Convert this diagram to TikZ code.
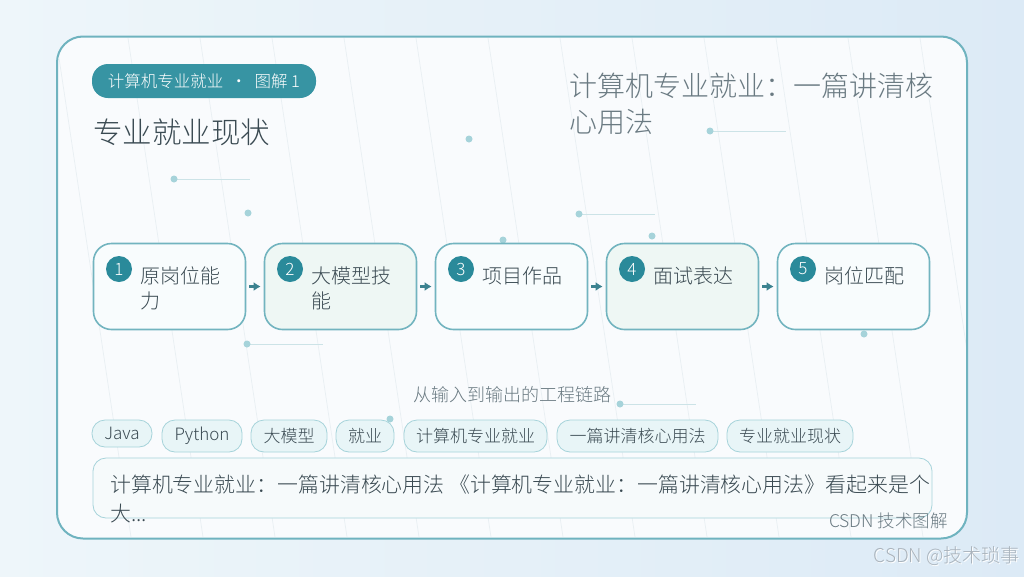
\documentclass[tikz,border=0pt]{standalone}
\usepackage{fontspec}
\IfFontExistsTF{Noto Sans CJK SC Light}{\setmainfont{Noto Sans CJK SC Light}}{\setmainfont{Noto Sans CJK SC}}
\usetikzlibrary{arrows.meta}
\definecolor{bgA}{HTML}{EEF6FA}
\definecolor{bgB}{HTML}{DCEAF6}
\definecolor{cardfill}{HTML}{F9FBFD}
\definecolor{cardline}{HTML}{6FB3BF}
\definecolor{badge}{HTML}{3794A3}
\definecolor{numfill}{HTML}{2A8A9A}
\definecolor{boxline}{HTML}{72B4BF}
\definecolor{boxA}{HTML}{F8FCFD}
\definecolor{boxB}{HTML}{EEF7F4}
\definecolor{arrowc}{HTML}{3C8290}
\definecolor{dotc}{HTML}{A6D3DA}
\definecolor{dotline}{HTML}{CCE3E7}
\definecolor{tagfill}{HTML}{E8F5F7}
\definecolor{tagline}{HTML}{A6D3DA}
\definecolor{txtdark}{HTML}{3A4A52}
\definecolor{txtgray}{HTML}{6A7A82}
\definecolor{faint}{HTML}{E9EFF3}
\definecolor{sumfill}{HTML}{F6FAFB}
\definecolor{wm}{HTML}{A9B3BC}
\begin{document}
\begin{tikzpicture}[x=1pt,y=-1pt,
  stepbox/.style={draw=boxline,line width=1.6pt,rounded corners=18pt,minimum width=152pt,minimum height=86pt,inner sep=0pt},
  numc/.style={circle,fill=numfill,minimum size=26pt,inner sep=0pt,text=white,font=\fontsize{17}{17}\selectfont},
  steptext/.style={anchor=north west,align=left,inner sep=0pt,text=txtdark,font=\fontsize{20}{25}\selectfont},
  arr/.style={-{Latex[length=7pt,width=9pt]},draw=arrowc,line width=2.4pt,shorten <=3pt,shorten >=3pt},
  tag/.style={draw=tagline,fill=tagfill,line width=0.8pt,rounded corners=13pt,minimum height=32pt,inner sep=0pt,text=txtdark,font=\fontsize{17}{17}\selectfont},
  dot/.style={fill=dotc,draw=none},
  dline/.style={draw=dotline,line width=0.8pt}
]
\useasboundingbox (0,0) rectangle (1024,576);
% background
\shade[left color=bgA,right color=bgB] (0,0) rectangle (1024,576);
% card
\node[draw=cardline,line width=2pt,fill=cardfill,rounded corners=26pt,minimum width=910pt,minimum height=502pt,inner sep=0pt] (card) at (512,287.5) {};
% faint diagonal lines
\begin{scope}
\clip[rounded corners=26pt] (58,38) rectangle (966,537);
\foreach \k in {0,...,13}{
  \draw[faint,line width=0.7pt] (128+72*\k-72,38) -- (128+72*\k-72+75,537);
}
\end{scope}
% badge
\node[fill=badge,rounded corners=16pt,minimum width=224pt,minimum height=34pt,inner sep=0pt,text=white,font=\fontsize{16.5}{16.5}\selectfont] (badge) at (204,81) {计算机专业就业\ \ ·\ \ 图解 1};
% titles
\node[anchor=west,inner sep=0pt,text=txtdark,font=\fontsize{29.5}{29.5}\selectfont] (title) at (93,132) {专业就业现状};
\node[anchor=north west,align=left,inner sep=0pt,text=txtgray,font=\fontsize{28}{36}\selectfont] (rtitle) at (569,73) {计算机专业就业：一篇讲清核\\心用法};
% decorative dots
\foreach \x/\y/\l in {174/179/250,710/131/786,247/344/323,579/214/655,620/404/696}{
  \draw[dline] (\x,\y) -- (\l,\y);
  \fill[dot] (\x,\y) circle (3.5pt);
}
\foreach \x/\y in {248/213,469/139,503/240,652/236,864/334,390/419}{
  \fill[dot] (\x,\y) circle (3.5pt);
}
% steps
\node[stepbox,fill=boxA] (s1) at (169.5,286.5) {};
\node[stepbox,fill=boxB] (s2) at (340.5,286.5) {};
\node[stepbox,fill=boxA] (s3) at (511.5,286.5) {};
\node[stepbox,fill=boxB] (s4) at (682.5,286.5) {};
\node[stepbox,fill=boxA] (s5) at (853.5,286.5) {};
\node[numc] (n1) at (119,269) {1};
\node[numc] (n2) at (290,269) {2};
\node[numc] (n3) at (461,269) {3};
\node[numc] (n4) at (632,269) {4};
\node[numc] (n5) at (803,269) {5};
\node[steptext] (t1) at (140,267) {原岗位能\\力};
\node[steptext] (t2) at (311,267) {大模型技\\能};
\node[steptext] (t3) at (482,267) {项目作品};
\node[steptext] (t4) at (653,267) {面试表达};
\node[steptext] (t5) at (824,267) {岗位匹配};
\draw[arr] (s1.east) -- (s2.west);
\draw[arr] (s2.east) -- (s3.west);
\draw[arr] (s3.east) -- (s4.west);
\draw[arr] (s4.east) -- (s5.west);
% caption
\node[inner sep=0pt,text=txtgray,font=\fontsize{18}{18}\selectfont] (cap) at (512,395) {从输入到输出的工程链路};
% tags
\node[tag,minimum width=60pt,minimum height=27pt] (g1) at (122,433.5) {Java};
\node[tag,minimum width=80pt] (g2) at (202,436) {Python};
\node[tag,minimum width=76pt] (g3) at (289,436) {大模型};
\node[tag,minimum width=58pt] (g4) at (365,436) {就业};
\node[tag,minimum width=143pt] (g5) at (475.5,436) {计算机专业就业};
\node[tag,minimum width=161pt] (g6) at (637.5,436) {一篇讲清核心用法};
\node[tag,minimum width=126pt] (g7) at (790,436) {专业就业现状};
% summary
\node[draw=tagline,fill=sumfill,line width=0.8pt,rounded corners=13pt,minimum width=839pt,minimum height=60pt,inner sep=0pt] (sum) at (512.5,488) {};
\node[anchor=north west,align=left,inner sep=0pt,text=txtdark,font=\fontsize{20.9}{29}\selectfont] (sumt) at (110,475) {计算机专业就业：一篇讲清核心用法 《计算机专业就业：一篇讲清核心用法》看起来是个\\大...};
\node[anchor=east,inner sep=0pt,text=txtgray,font=\fontsize{17.5}{17.5}\selectfont] (foot) at (948,521) {CSDN 技术图解};
% watermark
\node[anchor=east,inner sep=0pt,text=white,font=\fontsize{19}{19}\selectfont] at (1021,557) {CSDN @技术琐事};
\node[anchor=east,inner sep=0pt,text=wm,font=\fontsize{19}{19}\selectfont] (wm) at (1020,556) {CSDN @技术琐事};
\end{tikzpicture}
\end{document}
